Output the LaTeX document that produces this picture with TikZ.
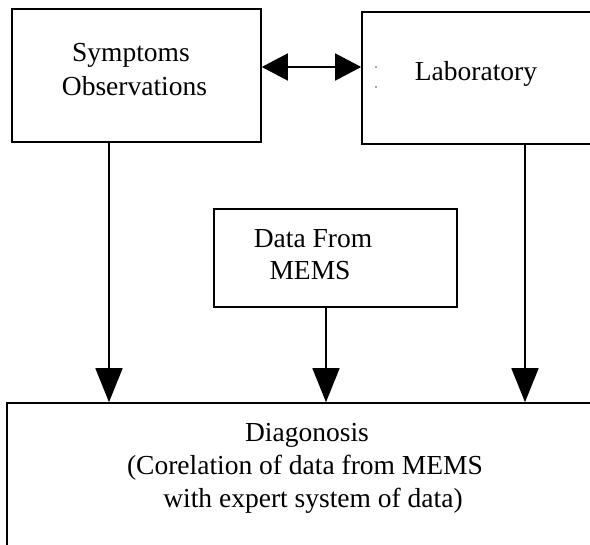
\documentclass[tikz,border=0pt]{standalone}
\usepackage{fontspec}
\setmainfont{Liberation Serif}
\usetikzlibrary{arrows.meta}
\begin{document}
\begin{tikzpicture}[x=1pt,y=-1pt,
  box/.style={draw,line width=1.6pt,inner sep=0pt,rectangle},
  lbl/.style={anchor=base,inner sep=0pt,font=\fontsize{27.5}{33}\selectfont},
  downarrow/.style={line width=1.6pt,-{Triangle[length=34pt,width=27pt]}},
  dblarrow/.style={line width=1.6pt,{Triangle[length=26pt,width=27pt]}-{Triangle[length=26pt,width=27pt]}}]
\useasboundingbox (0,0) rectangle (590,545);
\clip (0,0) rectangle (590,545);
\fill[white] (0,0) rectangle (590,545);
% boxes
\node[box,minimum width=249pt,minimum height=133pt] (sym) at (136.5,75.5) {};
\node[box,minimum width=238pt,minimum height=132pt] (lab) at (481,78) {};
\node[box,minimum width=243pt,minimum height=98pt] (mems) at (335.5,258) {};
\node[box,minimum width=593pt,minimum height=162pt] (diag) at (303.5,484) {};
% texts
\node[lbl] (t1) at (131,62) {Symptoms};
\node[lbl] (t2) at (134.5,96) {Observations};
\node[lbl] (t3) at (476,81) {Laboratory};
\node[lbl] (t4) at (313,248) {Data From};
\node[lbl] (t5) at (310,280) {MEMS};
\node[lbl] (t6) at (307,442) {Diagonosis};
\node[lbl] (t7) at (305,475) {(Corelation of data from MEMS};
\node[lbl] (t8) at (313,508) {with expert system of data)};
% small dots
\fill[black!70] (376,67) circle (0.9pt);
\fill[black!70] (376,87) circle (0.9pt);
% connector coordinates
\coordinate (xa) at (109,0);
\coordinate (xb) at (326,0);
\coordinate (xc) at (525,0);
\coordinate (yd) at (0,67);
% connectors
\draw[dblarrow] (sym.east |- yd) -- (lab.west |- yd);
\draw[downarrow] (sym.south -| xa) -- (diag.north -| xa);
\draw[downarrow] (mems.south -| xb) -- (diag.north -| xb);
\draw[downarrow] (lab.south -| xc) -- (diag.north -| xc);
\end{tikzpicture}
\end{document}
